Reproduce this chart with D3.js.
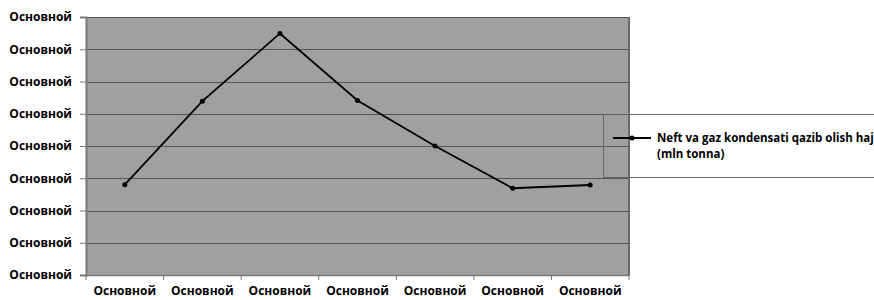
<!DOCTYPE html>
<html>
<head>
<style>
  body { margin: 0; background: #fff; }
  text { font-family: "Open Sans", "Liberation Sans", sans-serif; font-weight: bold; }
</style>
</head>
<body>

<script src="https://d3js.org/d3.v7.min.js"></script>
<script>

const width = 874;
const height = 300;

// categories and values (all labels in the source are placeholder text)
const categories = ['c1', 'c2', 'c3', 'c4', 'c5', 'c6', 'c7'];
const categoryLabels = ['Основной', 'Основной', 'Основной', 'Основной', 'Основной', 'Основной', 'Основной'];
const values = [2.8, 5.39, 7.49, 5.41, 4.0, 2.69, 2.79];
const yTicks = [0, 1, 2, 3, 4, 5, 6, 7, 8];
const yTickLabel = 'Основной';
const seriesName = ['Neft va gaz kondensati qazib olish hajmi', '(mln tonna)'];

const plot = { left: 86, right: 629, top: 17, bottom: 275 };

const svg = d3.select('body')
              .append('svg')
              .attr('width', width)
              .attr('height', height);

const x = d3.scaleBand()
            .domain(categories)
            .range([plot.left, plot.right]);

const y = d3.scaleLinear()
            .domain([0, 8])
            .range([plot.bottom, plot.top]);

// plot background
svg.append('rect')
   .attr('x', plot.left)
   .attr('y', plot.top)
   .attr('width', plot.right - plot.left)
   .attr('height', plot.bottom - plot.top)
   .attr('fill', '#a0a0a0');

// gridlines
svg.selectAll('line.grid')
   .data(yTicks)
   .enter()
   .append('line')
   .attr('class', 'grid')
   .attr('x1', plot.left)
   .attr('x2', plot.right)
   .attr('y1', d => Math.round(y(d)) + 0.5)
   .attr('y2', d => Math.round(y(d)) + 0.5)
   .attr('stroke', '#555')
   .attr('stroke-width', 1.2);

// right border
svg.append('line')
   .attr('x1', plot.right)
   .attr('x2', plot.right)
   .attr('y1', plot.top)
   .attr('y2', plot.bottom)
   .attr('stroke', '#6a6a6a')
   .attr('stroke-width', 2);

// y axis
const yAxis = d3.axisLeft(y)
                .tickValues(yTicks)
                .tickSize(6)
                .tickFormat(() => yTickLabel);

const gy = svg.append('g')
              .attr('transform', `translate(${plot.left},0)`)
              .call(yAxis);
gy.select('.domain').attr('stroke', '#777').attr('stroke-width', 2);
gy.selectAll('.tick line').attr('stroke', '#777');
gy.selectAll('.tick text')
  .attr('x', -14)
  .attr('fill', '#000')
  .style('font-size', '12px');

// x axis
const xAxis = d3.axisBottom(x)
                .tickSize(0)
                .tickFormat((d, i) => categoryLabels[i]);

const gx = svg.append('g')
              .attr('transform', `translate(0,${plot.bottom})`)
              .call(xAxis);
gx.select('.domain').attr('stroke', '#777').attr('stroke-width', 1.5);
gx.selectAll('.tick text')
  .attr('y', 11)
  .attr('fill', '#000')
  .style('font-size', '12px');

// category boundary ticks
const bounds = categories.map(c => x(c)).concat([x(categories[categories.length - 1]) + x.bandwidth()]);
svg.selectAll('line.xtick')
   .data(bounds)
   .enter()
   .append('line')
   .attr('class', 'xtick')
   .attr('x1', d => d)
   .attr('x2', d => d)
   .attr('y1', plot.bottom)
   .attr('y2', plot.bottom + 5)
   .attr('stroke', '#777');

// series line
const line = d3.line()
               .x((d, i) => x(categories[i]) + x.bandwidth() / 2)
               .y(d => y(d));

svg.append('path')
   .datum(values)
   .attr('d', line)
   .attr('fill', 'none')
   .attr('stroke', '#000')
   .attr('stroke-width', 1.8);

svg.selectAll('circle.pt')
   .data(values)
   .enter()
   .append('circle')
   .attr('class', 'pt')
   .attr('cx', (d, i) => x(categories[i]) + x.bandwidth() / 2)
   .attr('cy', d => y(d))
   .attr('r', 2.5)
   .attr('fill', '#000');

// legend (cut off at the right edge, as in the source)
const legend = svg.append('g');
legend.append('path')
      .attr('d', 'M604,114.5 H874 M603.5,114 V178 M604,177.5 H874')
      .attr('fill', 'none')
      .attr('stroke', '#666')
      .attr('stroke-width', 1);

legend.append('line')
      .attr('x1', 613)
      .attr('x2', 651)
      .attr('y1', 138)
      .attr('y2', 138)
      .attr('stroke', '#000')
      .attr('stroke-width', 1.8);
legend.append('circle')
      .attr('cx', 632)
      .attr('cy', 138)
      .attr('r', 2.5)
      .attr('fill', '#000');

legend.selectAll('text')
      .data(seriesName)
      .enter()
      .append('text')
      .attr('x', 657)
      .attr('y', (d, i) => 142 + i * 16)
      .style('font-size', '11.5px')
      .text(d => d);

</script>
</body>
</html>
